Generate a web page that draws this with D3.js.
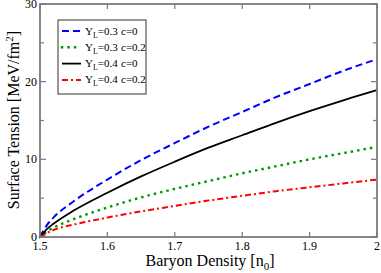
<!DOCTYPE html>
<html>
<head>
<meta charset="utf-8">
<script src="https://cdn.jsdelivr.net/npm/d3@7"></script>
<style>
body { margin: 0; background: #fff; }
</style>
</head>
<body>
<div id="chart"></div>
<script>
const density = [1.5, 1.505, 1.51, 1.52, 1.55, 1.6, 1.65, 1.7, 1.75, 1.8, 1.85, 1.9, 1.95, 2.0];
const yl03c0 = [0, 0.8, 1.5, 2.5, 4.6, 7.4, 9.9, 12.1, 14.2, 16.1, 18.0, 19.7, 21.4, 22.9];
const yl03c02 = [0, 0.3, 0.7, 1.2, 2.3, 3.8, 5.1, 6.2, 7.2, 8.2, 9.1, 10.0, 10.8, 11.6];
const yl04c0 = [0, 0.5, 1.0, 1.7, 3.4, 5.7, 7.8, 9.7, 11.5, 13.1, 14.7, 16.2, 17.6, 18.9];
const yl04c02 = [0, 0.2, 0.5, 0.9, 1.6, 2.5, 3.3, 4.0, 4.7, 5.3, 5.9, 6.4, 6.9, 7.4];
const seriesNames = [['0.3', '0'], ['0.3', '0.2'], ['0.4', '0'], ['0.4', '0.2']];
const xTicks = [1.5, 1.6, 1.7, 1.8, 1.9, 2];
const yTicks = [0, 10, 20, 30];

const w = 381, h = 273;
const margin = {left: 40, right: 4, top: 4, bottom: 36};

const series = [
  {vals: yl03c0, color: '#0000ff', dash: '7,4', width: 2, cap: 'butt'},
  {vals: yl03c02, color: '#009a00', dash: '0.1,6.4', width: 2.4, cap: 'square'},
  {vals: yl04c0, color: '#000000', dash: null, width: 1.8, cap: 'butt'},
  {vals: yl04c02, color: '#ff0000', dash: '6,3,2,3', width: 2, cap: 'butt'}
];

const svg = d3.select('#chart').append('svg').attr('width', w).attr('height', h)
              .attr('font-family', '"Liberation Serif", "Times New Roman", "DejaVu Serif", serif');

const xScale = d3.scaleLinear().domain([1.5, 2]).range([margin.left, w - margin.right]);
const yScale = d3.scaleLinear().domain([0, 30]).range([h - margin.bottom, margin.top]);

const frame = '#7a7a7a';
const y5 = d3.range(0, 31, 5);

// inward ticks on all sides
const g = svg.append('g').attr('stroke', frame).attr('stroke-width', 1.2);
y5.forEach(v => {
  const len = v % 10 == 0 ? 6 : 4;
  g.append('line').attr('x1', xScale(1.5)).attr('x2', xScale(1.5) + len).attr('y1', yScale(v)).attr('y2', yScale(v));
  g.append('line').attr('x1', xScale(2)).attr('x2', xScale(2) - len).attr('y1', yScale(v)).attr('y2', yScale(v));
});
xTicks.forEach(v => {
  g.append('line').attr('x1', xScale(v)).attr('x2', xScale(v)).attr('y1', yScale(0)).attr('y2', yScale(0) - 5);
  g.append('line').attr('x1', xScale(v)).attr('x2', xScale(v)).attr('y1', yScale(30)).attr('y2', yScale(30) + 5);
});

// lines
const line = d3.line().x((d, i) => xScale(density[i])).y(d => yScale(d)).curve(d3.curveMonotoneX);
series.forEach(s => {
  svg.append('path')
     .attr('d', line(s.vals))
     .attr('fill', 'none')
     .attr('stroke', s.color)
     .attr('stroke-width', s.width)
     .attr('stroke-dasharray', s.dash)
     .attr('stroke-linecap', s.cap);
});

svg.append('rect')
   .attr('x', margin.left).attr('y', margin.top)
   .attr('width', w - margin.left - margin.right).attr('height', h - margin.top - margin.bottom)
   .attr('fill', 'none').attr('stroke', frame).attr('stroke-width', 1.8);

// tick labels
svg.selectAll('.xl').data(xTicks).enter().append('text')
   .attr('x', d => xScale(d)).attr('y', yScale(0) + 13)
   .attr('text-anchor', 'middle').attr('font-size', 12)
   .text(d => d == 2 ? '2' : d.toFixed(1));
svg.selectAll('.yl').data(yTicks).enter().append('text')
   .attr('x', margin.left - 3).attr('y', d => yScale(d) + 4)
   .attr('text-anchor', 'end').attr('font-size', 12)
   .text(d => d);

// axis titles
svg.append('text').attr('x', 210).attr('y', 266).attr('text-anchor', 'middle').attr('font-size', 16)
   .html('Baryon Density [n<tspan font-size="11" dy="4">0</tspan><tspan dy="-4">]</tspan>');
svg.append('text').attr('transform', 'translate(19,120) rotate(-90)').attr('text-anchor', 'middle').attr('font-size', 16)
   .html('Surface Tension [MeV/fm<tspan font-size="11" dy="-6">2</tspan><tspan dy="6">]</tspan>');

// legend
const legend = svg.append('g');
legend.append('rect').attr('x', 58).attr('y', 20).attr('width', 88).attr('height', 74)
      .attr('fill', '#fff').attr('stroke', '#333').attr('stroke-width', 1);
series.forEach((s, i) => {
  const ly = 31 + i * 16.3;
  legend.append('line').attr('x1', 62).attr('x2', 81).attr('y1', ly).attr('y2', ly)
        .attr('stroke', s.color).attr('stroke-width', s.width)
        .attr('stroke-dasharray', s.dash).attr('stroke-linecap', s.cap);
  legend.append('text').attr('x', 85).attr('y', ly + 3.5).attr('font-size', 11)
        .html('Y<tspan font-size="8" dy="3">L</tspan><tspan dy="-3">=' + seriesNames[i][0] + '</tspan>');
  legend.append('text').attr('x', 121).attr('y', ly + 3.5).attr('font-size', 11)
        .text('c=' + seriesNames[i][1]);
});
</script>
</body>
</html>
